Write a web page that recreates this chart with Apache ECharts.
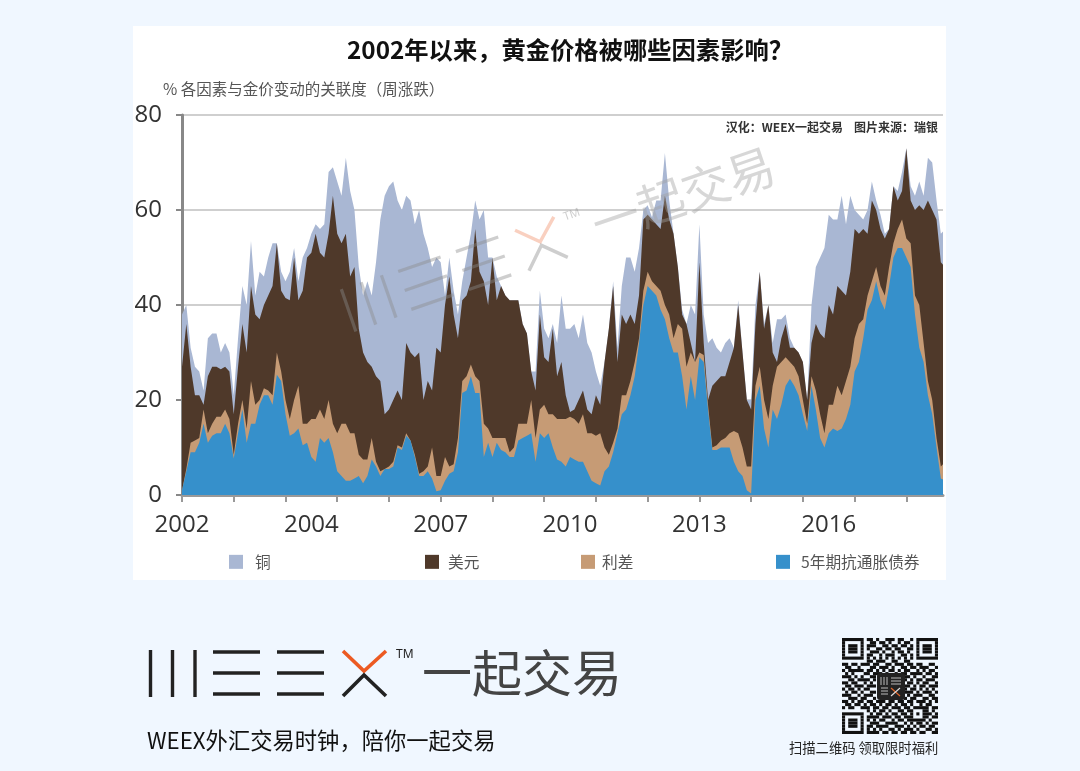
<!DOCTYPE html>
<html><head><meta charset="utf-8">
<style>html,body{margin:0;padding:0;background:#f0f7ff}#c{width:1080px;height:771px}</style>
<script src="https://cdn.jsdelivr.net/npm/echarts@6/dist/echarts.min.js"></script>
</head><body><div id="c"></div>
<script>
// Upper edge of each stacked band (one reading every 4.3 px)
const tipsTop = [1,5,9,9,11,15,11,12.5,13,13,15,13,7.7,13,18,11,15,15,19,21,21,19,25.3,24,17,12.5,13,14,10.5,11,8,7,12,11,12,9,5,4,3,3,3.5,4,2.5,4,7.5,6,4,5.5,5.5,6,10,9.5,12.5,11.5,8,4,4,5,3.5,0.8,1,3,4.5,5,9,21.5,22,25,21.5,21.5,8,11,8,11,9.5,9,8,8,11.5,12,12.5,13,7,
13,12,13,10,7.5,7,6,8,7.5,7,7,5,3,2.5,2,5,6,9,13,17,18,21,25,32,40,44,43,42,39,37,33,30,30,25,18,25,20,29,28,18,9.5,9.5,10,10,10,7,5,4,1,0.3,20,23,14,10,18,16,19,23,24.5,23,21,17,13.5,23,18,12,10,13,14,13.5,14,16,19,26,28,33,39,41,45,41,39,44,50,52,52,50,48,38,31,28,21,17,10,3.5,3];
const spreadTop = [1,5.5,11,11.5,12,18,13,15,16.5,16.5,18,16,8.5,15,20,14,24,19,20,22.5,22,21,30,26,20,16,20,23,15,15,16,16,18,16,20,15,13,15,15,13,13,8.5,7.5,7.5,12,7,5,5.5,6,7,10.5,10,13,11.5,8.5,4.5,5,6,10,4,4,8,6,6.5,12,24,25,27.5,25,24,15,14,12,12,12,12,9,10,15,15,15,20,12,
18,19,17,17,16,16,16,16.5,16,15,17,13,13,12.5,13,10,8.5,11,14,21,21,24,28,33,43,47,45,44,43,40,38,33,36,35,27,30,28,30,29.5,19,10,10.5,11.5,12,13,13.5,13,10,6,6,23,27,20,16,23,27,28,29,28,27,25,20,15,25,22,17,13,19,19,23,21,24,27,33,36,37,42,45,48,44,42,48,53,56,58,54,53,42,40,32,24,20,12,6,7];
const usdTop = [27,36,27,21,21,19,25,27,27,26.5,27,26,17,27,36,30,44,38,37,40,42,44,53,43,41.5,41,50,41,43,50,51,55,51,50,55,63,55,53,55,46,48,35,30,28,27,25,24,17,18,20,22,20,32,30,29,30,20,24,22,31,30,40,46,38,33,41,42,45,56,47,45,40,50,41,44,42,41,41,41,36,34,26,22,
38,29,28,35,25,28,21,17.5,18,20,22,18,17,21,19,28,35,44,28,38,36,38,36,42,58,59,58,57,56,63,58,55,48,38,36,32,28,49,32,20,23,24,25,25,28,31,40,30,20,18,36,47,35,40,30,28,33,36,31,31,30,28,20,32,36,34,33,40,38,44,43,42,47,56,55,56,55,62,60,56,54,56,65,62,64,73,62,60,61,60,62,60,58,49,48];
const copperTop = [38,40,31,27,26,22,33,34,34,30,32,30,21,33,44,40,53.5,42,47,46,50,53,53,47,45,47,52,45,50,52,55,57,56,57,68,69,66,63,71,64,60,48,42,45,42,49,58,63,65,66,62,60,63,62,57,60,55,52,48,50,49,42,50,43,38,45,50,55,62,58,60,50,50,46,44,42,41,41,41,36,34,26,26,
43,35,33,36,32,42,35,35,36,33,38,32,30,26,23,28,35,45,31,44,50,50,47,52,60,61,58.5,62,62,72,62,55,48,39,36,40,38,57,38,32,33,31,30,32,33,31,41,30,20,20,40,47,36,40,32,37,37,38,33,31,30,28,20,40,48,50,52,59,58,58,63,57,63,60,59,58,60,66,62,59,55,56,65,64,68,73,65,63,66,63,71,70,62,55,56];
const xTickLabels = ['2002','2004','2007','2010','2013','2016'];
const seriesNames = ['铜','美元','利差','5年期抗通胀债券'];
const yTicks = [0,20,40,60,80];
const qrRows = [
'1111111011010011101100101111111',
'1000001001101101001011001000001',
'1011101011100110110110101011101',
'1011101010011011011001101011101',
'1011101001110100101101001011101',
'1000001011001011100110101000001',
'1111111010101010101010101111111',
'0000000011011100110011000000000',
'1101101110110011011101101100110',
'0110010001101110100110110111001',
'1011111011010101101011001010110',
'0101000110111010010110111101101',
'1110101001100000000011010010011',
'0011011110100000000010101101110',
'1101100101000000000001101011001',
'0110111011100000000011010110111',
'1011010110000000000010110101010',
'0101101001100000000011101011101',
'1110010111000000000001011100110',
'0011101100100000000010110011011',
'1101011011011101101101101110101',
'0110110101101011010110100101100',
'1011001110110110111011011111011',
'0000000010101101001101100011010',
'1111111001011010110110101011101',
'1000001011110111011011100011011',
'1011101010101100101101111110100',
'1011101001110011110010101101011',
'1011101011011110011101010110110',
'1000001010101001101011101001101',
'1111111011110110110110110110011'];

const step = 12, labelStep = 30;
const tops = [copperTop, usdTop, spreadTop, tipsTop];
const colors = ['#a9b7d3', '#4f392a', '#c69b75', '#3690cb'];
const tickVals = []; for (let i = 0; i <= 176; i += step) tickVals.push(i);
const labelVals = xTickLabels.map((_, i) => i * labelStep);

const CJK = '"Noto Sans CJK SC","Noto Sans",sans-serif';
function line(x1, y1, x2, y2, stroke, w, z, op) {
  return {type:'line', shape:{x1,y1,x2,y2}, z, style:{stroke, lineWidth:w, opacity:op, lineCap:'butt'}};
}
function logo(z, op, dark, orange, txt) {
  const e = [];
  [150.5,172.5,195].forEach(x => e.push(line(x,650,x,697,dark,3.4,z,op)));
  [[213,260],[277,324]].forEach(b => [652,673,694].forEach(y => e.push(line(b[0],y,b[1],y,dark,3.4,z,op))));
  e.push({type:'polyline', z, shape:{points:[[343,651],[364,671],[386,651]]}, style:{stroke:orange,lineWidth:3.6,fill:null,opacity:op}});
  e.push({type:'polyline', z, shape:{points:[[343,696],[364,675],[386,696]]}, style:{stroke:dark,lineWidth:3.6,fill:null,opacity:op}});
  e.push({type:'text', z, x:396, y:649, style:{text:'TM', fill:dark, font:'12px "Noto Sans",sans-serif', opacity:op}});
  e.push({type:'text', z, x:422, y:673, style:{text:'一起交易', fill:txt, font:'50px '+CJK, textVerticalAlign:'middle', textBaseline:'middle', opacity:op}});
  return e;
}
const qr = [];
const qrM = 96 / qrRows.length;
qrRows.forEach((r, j) => {
  let s = -1;
  for (let i = 0; i <= r.length; i++) {
    if (r[i] === '1' && s < 0) s = i;
    if (r[i] !== '1' && s >= 0) {
      qr.push({type:'rect', z:5, shape:{x:842 + s*qrM, y:638 + j*qrM, width:(i-s)*qrM, height:qrM}, style:{fill:'#111'}});
      s = -1;
    }
  }
});
qr.push({type:'rect', z:6, shape:{x:877,y:673,width:28,height:27,r:3}, style:{fill:'#222'}});
[881,884,887].forEach(x => qr.push(line(x,677,x,685,'#bbb',1,7,1)));
[678,681,684].forEach(y => qr.push(line(891,y,901,y,'#bbb',1,7,1)));
[688,691,694].forEach(y => qr.push(line(881,y,888,y,'#bbb',1,7,1)));
qr.push(line(891,688,900,696,'#e0662a',1.2,7,1), line(900,688,891,696,'#ddd',1.2,7,1));

const legendPos = {'铜':229,'美元':425,'利差':581,'5年期抗通胀债券':776};
const chart = echarts.init(document.getElementById('c'), null, {renderer:'canvas'});
chart.setOption({
  animation:false,
  backgroundColor:'#f0f7ff',
  textStyle:{fontFamily:CJK},
  title:[
    {text:'2002年以来，黄金价格被哪些因素影响？', left:565, top:33, textAlign:'center',
     textStyle:{fontSize:24.3, fontWeight:'bold', color:'#111', fontFamily:CJK}},
    {text:'% 各因素与金价变动的关联度（周涨跌）', left:158, top:76,
     textStyle:{fontSize:15.5, fontWeight:'normal', color:'#555', fontFamily:CJK}},
    {text:'汉化：WEEX一起交易    图片来源：瑞银', right:137, top:116,
     textStyle:{fontSize:12, fontWeight:'bold', color:'#333', fontFamily:CJK}}
  ],
  grid:{left:182, right:137, top:115, bottom:276, containLabel:false},
  xAxis:{type:'value', min:0, max:176.5, splitLine:{show:false},
    axisLine:{show:true, onZero:true, lineStyle:{color:'#999', width:3}},
    axisTick:{show:true, length:7, customValues:tickVals, lineStyle:{color:'#999', width:2}},
    axisLabel:{customValues:labelVals, margin:18, fontSize:24, color:'#333', fontFamily:'"Open Sans",sans-serif',
      formatter:v => xTickLabels[Math.round(v / labelStep)] || ''}
  },
  yAxis:{type:'value', min:yTicks[0], max:yTicks[yTicks.length-1], interval:20,
    axisLine:{show:true, lineStyle:{color:'#888', width:3}},
    axisTick:{show:true, length:6, lineStyle:{color:'#888', width:2}},
    axisLabel:{margin:20, fontSize:24, color:'#333', fontFamily:'"Open Sans",sans-serif'},
    splitLine:{show:true, lineStyle:{color:'#cfcfcf', width:2}}
  },
  legend:Object.keys(legendPos).map(n => ({
    data:[n], left:legendPos[n], top:554, icon:'rect', itemWidth:14, itemHeight:14, itemGap:0,
    padding:0, selectedMode:false,
    textStyle:{fontSize:15.7, color:'#555', fontFamily:CJK, padding:[0,0,0,n==='铜'?7:n==='5年期抗通胀债券'?6:n==='美元'?4:2]}
  })),
  series:seriesNames.map((n, k) => ({
    name:n, type:'line', data:tops[k].map((v, i) => [i, v]), symbol:'none', showSymbol:false, smooth:false,
    lineStyle:{width:0}, itemStyle:{color:colors[k]}, areaStyle:{color:colors[k], opacity:1}, emphasis:{disabled:true}, z:2+k
  })),
  graphic:{elements:[
    {type:'rect', z:-100, silent:true, shape:{x:133,y:26,width:813,height:554}, style:{fill:'#ffffff'}},
    {type:'group', z:50, silent:true, x:198, y:-363, originX:150, originY:673, rotation:0.332, scaleX:.953, scaleY:.953,
     children:logo(50,.42,'#8a8a8a','#f0906a','#a0a0a0')},
    ...logo(5,1,'#222','#ec5a22','#444'),
    {type:'text', z:5, x:147, y:741, style:{text:'WEEX外汇交易时钟，陪你一起交易', fill:'#111', font:'22.3px '+CJK, textBaseline:'middle', textVerticalAlign:'middle'}},
    {type:'text', z:5, x:789, y:748, style:{text:'扫描二维码 领取限时福利', fill:'#222', font:'13.3px '+CJK, textBaseline:'middle', textVerticalAlign:'middle'}},
    ...qr
  ]}
});
</script></body></html>
